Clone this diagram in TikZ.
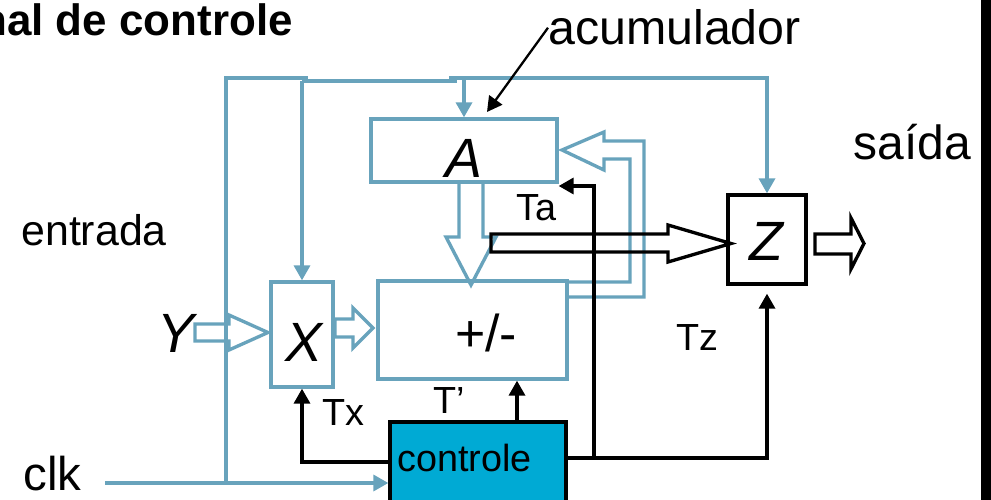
\documentclass[tikz,border=0pt]{standalone}
\usepackage{fontspec}
\setmainfont{Liberation Sans}
\usepackage{tikz}
\usetikzlibrary{arrows.meta}
\definecolor{azulfio}{RGB}{104,163,188}
\definecolor{azulctl}{RGB}{0,170,212}

\begin{document}
\begin{tikzpicture}[x=0.02cm,y=-0.02cm,
  fio/.style={azulfio,line width=1.9pt},
  sinal/.style={black,line width=1.9pt},
  ponta/.style={-{Triangle[length=0.3cm,width=0.32cm]}},
  caixa/.style={draw=azulfio,line width=1.9pt,inner sep=0pt},
  texto/.style={inner sep=0pt,font=\fontsize{#1}{#1}\selectfont},
  letra/.style={inner sep=0pt,font=\fontsize{31.5}{32}\selectfont\itshape}]
  \useasboundingbox (0,0) rectangle (991,500);
  \clip (0,0) rectangle (991,500);
  \fill[white] (0,0) rectangle (991,500);

  % caixas
  \node[caixa,minimum width=3.72cm,minimum height=1.26cm] (A) at (464,150.5) {};
  \node[caixa,minimum width=1.24cm,minimum height=2.1cm] (X) at (302,334.5) {};
  \node[caixa,minimum width=3.78cm,minimum height=1.96cm] (S) at (472.5,330) {};
  \node[caixa,draw=black,minimum width=1.56cm,minimum height=1.78cm] (Z) at (767,239.5) {};
  \node[caixa,draw=black,fill=azulctl,minimum width=3.52cm,minimum height=1.96cm] (ctl) at (478,471) {};

  % textos
  \node[texto=25,anchor=base east] (titulo) at (293,36) {\bfseries nal de controle};
  \node[texto=27.5,anchor=base west] (acum) at (548,45) {acumulador};
  \node[texto=27.3,anchor=base west] (saida) at (853,159) {saída};
  \node[texto=24.4,anchor=base west] (entrada) at (21,245) {entrada};
  \node[texto=27,anchor=base west] (clk) at (23,490) {clk};
  \node[letra] (tA) at (464,158) {A};
  \node[letra] (tX) at (304,342) {X};
  \node[letra] (tY) at (176,333) {Y};
  \node[letra] (tZ) at (766,241) {Z};
  \node[texto=29.5] (tS) at (486,333) {+/-};
  \node[texto=21.5,anchor=base west] (tctl) at (397,471) {controle};
  \node[texto=21.5,anchor=base west] (Ta) at (516,220) {Ta};
  \node[texto=21.5,anchor=base west] (Tx) at (322,425) {Tx};
  \node[texto=21.5,anchor=base west] (Tl) at (433,413) {T’};
  \node[texto=21.5,anchor=base west] (Tz) at (676,350) {Tz};

  % relogio e barramento azul
  \coordinate (clkin) at (105,483);
  \draw[fio,ponta] (clkin) -- (clkin -| ctl.west);
  \draw[fio] (226,483) -- (226,78) -- (308,78);
  \draw[fio] (302,81) -- (457,81);
  \draw[fio,ponta] (302,81) -- (X.north);
  \draw[fio,ponta] (449,78) -| (Z.north);
  \draw[fio,ponta] (464,78) -- (A.north);

  % setas largas azuis
  \draw[fio] (195,324) -- (229,324) -- (229,315) -- (268,332.5) -- (229,350)
    -- (229,341) -- (195,341) -- cycle;
  \draw[fio] (335,319) -- (353,319) -- (353,308) -- (373,328) -- (353,348)
    -- (353,337) -- (335,337) -- cycle;
  \draw[fio] (459,183) -- (459,237) -- (446,237) -- (471,285) -- (496,237)
    -- (483,237) -- (483,183);
  \draw[fio] (S.east |- 0,282) -- (630,282) -- (630,159) -- (604,159) -- (604,170)
    -- (562,150) -- (604,132) -- (604,141) -- (644,141) -- (644,297) -- (S.east |- 0,297);

  % setas largas pretas
  \draw[sinal] (491,234) -- (668,234) -- (668,225) -- (731,243.5) -- (668,262)
    -- (668,252) -- (491,252) -- cycle;
  \draw[sinal] (815,234) -- (851,234) -- (851,218) -- (864,243.5) -- (851,269)
    -- (851,254) -- (815,254) -- cycle;

  % sinais de controle
  \coordinate (xtl) at (517,0);
  \coordinate (ytx) at (0,462);
  \coordinate (ytz) at (0,458);
  \coordinate (xta) at (594,0);
  \coordinate (yta) at (0,186);
  \draw[sinal,ponta] (xtl |- ctl.north) -- (xtl |- S.south);
  \draw[sinal,ponta] (ctl.west |- ytx) -| (X.south);
  \draw[sinal,ponta,shorten >=0.16cm] (ctl.east |- ytz) -| (Z.south);
  \draw[sinal,ponta] (xta |- ytz) -- (xta |- yta) -- (A.east |- yta);
  \draw[black,line width=1.3pt,ponta] (acum.west) -- (487,112);

  \fill[black] (981,0) rectangle (991,500);
\end{tikzpicture}
\end{document}
